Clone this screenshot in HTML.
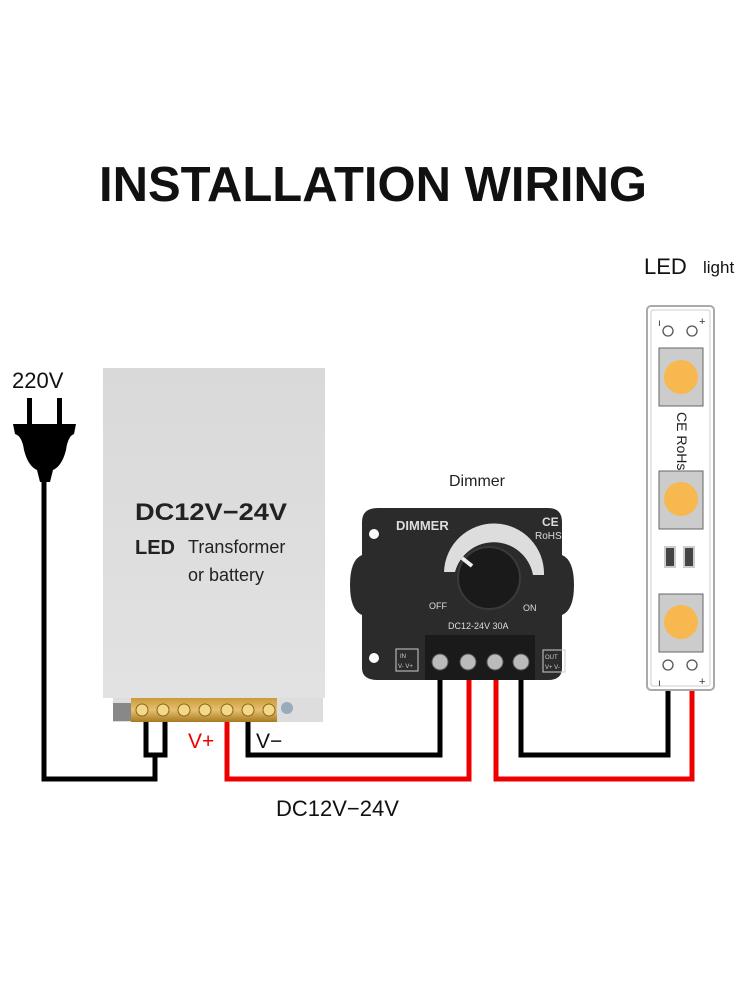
<!DOCTYPE html>
<html><head><style>
body{margin:0;width:750px;height:1000px;background:#fff;overflow:hidden}
svg{display:block}
text{font-family:"Liberation Sans",sans-serif}
</style></head><body>
<svg width="750" height="1000" viewBox="0 0 750 1000">
<defs>
<linearGradient id="tg" x1="0" y1="0" x2="0" y2="1"><stop offset="0" stop-color="#d9d9d9"/><stop offset="1" stop-color="#e2e2e2"/></linearGradient>
<linearGradient id="brass" x1="0" y1="0" x2="0" y2="1"><stop offset="0" stop-color="#c89a3a"/><stop offset=".5" stop-color="#e6c070"/><stop offset="1" stop-color="#a87a20"/></linearGradient>
</defs>
<text x="373" y="201" text-anchor="middle" font-size="49" font-weight="bold" fill="#111" textLength="548" lengthAdjust="spacingAndGlyphs">INSTALLATION WIRING</text>

<!-- plug -->
<text x="12" y="388" font-size="22" fill="#111">220V</text>
<rect x="27" y="398" width="5" height="28" fill="#000"/>
<rect x="57" y="398" width="5" height="28" fill="#000"/>
<path d="M13 424 H76 L74 434 Q68 436 66 450 Q62 466 53 470 L50 482 H40 L37 470 Q28 466 24 450 Q22 436 15 434 Z" fill="#000"/>
<!-- wires -->
<g fill="none" stroke-width="5" stroke-linecap="square">
<path d="M44 480 V779 H155 V755 H146 V722 M155 755 H165 V722" stroke="#000"/>
<path d="M248 722 V755 H440 V670" stroke="#000"/>
<path d="M227 722 V779 H469 V670" stroke="#e00"/>
<path d="M521 670 V755 H668 V676" stroke="#000"/>
<path d="M496 670 V779 H692 V676" stroke="#e00"/>
</g>

<!-- transformer -->
<rect x="103" y="368" width="222" height="330" fill="url(#tg)"/>
<rect x="113" y="698" width="210" height="24" fill="#ddd"/>
<rect x="113" y="703" width="18" height="18" fill="#888"/>
<rect x="131" y="698" width="146" height="24" fill="url(#brass)"/>
<g fill="#f3d88a" stroke="#8a6518" stroke-width="1">
<circle cx="142" cy="710" r="6"/><circle cx="163" cy="710" r="6"/><circle cx="184" cy="710" r="6"/><circle cx="205" cy="710" r="6"/><circle cx="227" cy="710" r="6"/><circle cx="248" cy="710" r="6"/><circle cx="269" cy="710" r="6"/></g>
<circle cx="287" cy="708" r="6" fill="#9ab" />
<text x="135" y="520" font-size="24" fill="#222" font-weight="bold" textLength="152" lengthAdjust="spacingAndGlyphs">DC12V−24V</text>
<text x="135" y="554" font-size="20" fill="#222" font-weight="bold">LED</text>
<text x="188" y="553" font-size="18" fill="#222">Transformer</text>
<text x="188" y="581" font-size="18" fill="#222">or battery</text>
<text x="188" y="748" font-size="21" fill="#e00">V+</text>
<text x="256" y="748" font-size="21" fill="#111">V−</text>
<text x="276" y="816" font-size="22" fill="#111">DC12V−24V</text>

<!-- dimmer -->
<text x="449" y="486" font-size="16" fill="#222">Dimmer</text>
<path d="M378 508 H548 Q562 508 562 522 V555 Q574 560 574 585 Q574 610 562 615 V668 Q562 680 548 680 H378 Q362 680 362 668 V615 Q350 610 350 585 Q350 560 362 555 V522 Q362 508 378 508 Z" fill="#2b2b2b"/>
<circle cx="374" cy="534" r="5" fill="#fff"/><circle cx="374" cy="658" r="5" fill="#fff"/>
<text x="396" y="530" font-size="13" font-weight="bold" fill="#ddd">DIMMER</text>
<text x="542" y="526" font-size="12" font-weight="bold" fill="#ddd">CE</text>
<text x="535" y="539" font-size="10" fill="#ddd">RoHS</text>
<path d="M444 572 A50 50 0 0 1 544 575 L533 575 A40 40 0 0 0 455 572 Z" fill="#ddd"/>
<circle cx="489" cy="578" r="31" fill="#1a1a1a" stroke="#3a3a3a" stroke-width="2"/>
<line x1="462" y1="558" x2="472" y2="566" stroke="#eee" stroke-width="4"/>
<text x="429" y="609" font-size="9" fill="#ddd">OFF</text>
<text x="523" y="611" font-size="9" fill="#ddd">ON</text>
<text x="448" y="629" font-size="9" fill="#ddd">DC12-24V  30A</text>
<rect x="425" y="635" width="110" height="45" fill="#1a1a1a"/>
<g fill="#bbb" stroke="#555"><circle cx="440" cy="662" r="8"/><circle cx="468" cy="662" r="8"/><circle cx="495" cy="662" r="8"/><circle cx="521" cy="662" r="8"/></g>
<rect x="396" y="649" width="22" height="22" fill="none" stroke="#ccc"/>
<text x="400" y="658" font-size="6" fill="#ccc">IN</text><text x="398" y="668" font-size="6" fill="#ccc">V- V+</text>
<rect x="543" y="650" width="22" height="22" fill="none" stroke="#ccc"/>
<text x="545" y="659" font-size="6" fill="#ccc">OUT</text><text x="545" y="669" font-size="6" fill="#ccc">V+ V-</text>

<!-- LED strip -->
<text x="644" y="274" font-size="22" fill="#111">LED</text>
<text x="703" y="273" font-size="17" fill="#111">light</text>
<rect x="647" y="306" width="67" height="384" rx="4" fill="#fff" stroke="#aaa" stroke-width="2"/>
<rect x="651" y="310" width="59" height="376" rx="2" fill="none" stroke="#ccc"/>
<g fill="#fff" stroke="#555" stroke-width="1.3">
<circle cx="668" cy="331" r="5"/><circle cx="692" cy="331" r="5"/><circle cx="668" cy="665" r="5"/><circle cx="692" cy="665" r="5"/></g>
<text x="658" y="326" font-size="10" fill="#333">ı</text><text x="699" y="325" font-size="11" fill="#333">+</text>
<text x="658" y="686" font-size="10" fill="#333">ı</text><text x="699" y="685" font-size="11" fill="#333">+</text>
<g>
<rect x="659" y="348" width="44" height="58" fill="#ccc" stroke="#666"/><circle cx="681" cy="377" r="17" fill="#f6b84f"/>
<rect x="659" y="471" width="44" height="58" fill="#ccc" stroke="#666"/><circle cx="681" cy="499" r="17" fill="#f6b84f"/>
<rect x="659" y="594" width="44" height="58" fill="#ccc" stroke="#666"/><circle cx="681" cy="622" r="17" fill="#f6b84f"/>
</g>
<rect x="665" y="547" width="10" height="20" fill="#444" stroke="#ccc" stroke-width="2"/>
<rect x="684" y="547" width="10" height="20" fill="#444" stroke="#ccc" stroke-width="2"/>
<text transform="translate(677,412) rotate(90)" font-family="Liberation Serif" font-size="14" fill="#222">CE RoHs</text>
</svg>
</body></html>
